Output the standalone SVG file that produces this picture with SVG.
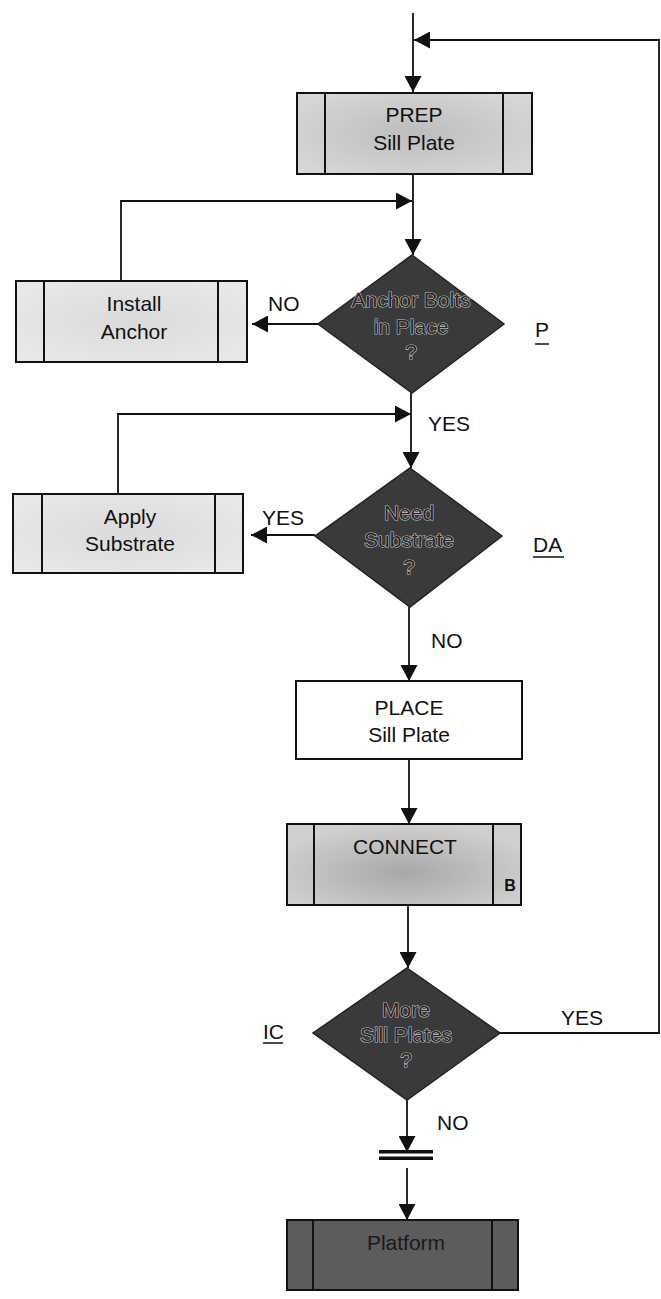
<svg xmlns="http://www.w3.org/2000/svg" width="661" height="1299" viewBox="0 0 661 1299">
<style>
  .t{font-family:"Liberation Sans",Arial,sans-serif;font-size:21px;fill:#111;text-anchor:middle}
  .lbl{font-family:"Liberation Sans",Arial,sans-serif;font-size:21px;fill:#111}
  .dt{font-family:"Liberation Sans",Arial,sans-serif;font-size:21px;fill:#262626;stroke:#c4c4c4;stroke-width:1.2;paint-order:stroke;text-anchor:middle}
  .edge{fill:none;stroke:#111;stroke-width:1.8}
  .box{stroke:#111;stroke-width:2}
  .dia{fill:#3a3a3a;stroke:#222;stroke-width:1.5}
  .inner{stroke:#111;stroke-width:2}
</style>
<defs>
  <marker id="ah" markerUnits="userSpaceOnUse" markerWidth="17" markerHeight="17" viewBox="0 0 16 17" refX="16" refY="8.5" orient="auto">
    <path d="M0,0 L16,8.5 L0,17 z" fill="#111"/>
  </marker>
  <radialGradient id="gPrep" cx="50%" cy="50%" r="60%">
    <stop offset="0" stop-color="#bdbdbd"/>
    <stop offset="1" stop-color="#d6d6d6"/>
  </radialGradient>
  <radialGradient id="gLight" cx="50%" cy="50%" r="60%">
    <stop offset="0" stop-color="#dadada"/>
    <stop offset="1" stop-color="#e8e8e8"/>
  </radialGradient>
  <radialGradient id="gConn" cx="50%" cy="60%" r="60%">
    <stop offset="0" stop-color="#a8a8a8"/>
    <stop offset="1" stop-color="#d0d0d0"/>
  </radialGradient>
</defs>

<g id="connectors">
  <path class="edge" d="M413,13 L413,92" marker-end="url(#ah)"/>
  <path class="edge" d="M413,174 L413,255" marker-end="url(#ah)"/>
  <path class="edge" d="M121,281 L121,201 L412,201" marker-end="url(#ah)"/>
  <path class="edge" d="M318,324 L252,324" marker-end="url(#ah)"/>
  <path class="edge" d="M411,393 L411,468" marker-end="url(#ah)"/>
  <path class="edge" d="M118,494 L118,414 L411,414" marker-end="url(#ah)"/>
  <path class="edge" d="M315,535 L251,535" marker-end="url(#ah)"/>
  <path class="edge" d="M409,607 L409,681" marker-end="url(#ah)"/>
  <path class="edge" d="M409,759 L409,824" marker-end="url(#ah)"/>
  <path class="edge" d="M408,905 L408,968" marker-end="url(#ah)"/>
  <path class="edge" d="M500,1033 L659,1033 L659,40 L414,40" marker-end="url(#ah)"/>
  <path class="edge" d="M407,1100 L407,1152" marker-end="url(#ah)"/>
  <rect x="379" y="1150" width="54" height="3.5" fill="#111"/>
  <rect x="379" y="1156.5" width="54" height="3.5" fill="#111"/>
  <path class="edge" d="M407,1168 L407,1220" marker-end="url(#ah)"/>
  <text class="lbl" x="268" y="311">NO</text>
  <text class="lbl" x="428" y="431">YES</text>
  <text class="lbl" x="262" y="525">YES</text>
  <text class="lbl" x="431" y="648">NO</text>
  <text class="lbl" x="561" y="1025">YES</text>
  <text class="lbl" x="437" y="1130">NO</text>
</g>

<g id="prep">
  <rect class="box" x="297" y="93" width="235" height="81" fill="url(#gPrep)"/>
  <line class="inner" x1="325" y1="93" x2="325" y2="174"/>
  <line class="inner" x1="503" y1="93" x2="503" y2="174"/>
  <text class="t" x="414" y="122">PREP</text>
  <text class="t" x="414" y="150">Sill Plate</text>
</g>

<g id="anchor-decision">
  <polygon class="dia" points="412,255 504,324 412,393 318,324"/>
  <text class="dt" x="411" y="307">Anchor Bolts</text>
  <text class="dt" x="411" y="334">in Place</text>
  <text class="dt" x="411" y="359">?</text>
  <text class="lbl" x="535" y="337">P</text>
  <line x1="535" y1="344" x2="549" y2="344" stroke="#111" stroke-width="1.5"/>
</g>

<g id="install-anchor">
  <rect class="box" x="16" y="281" width="231" height="81" fill="url(#gLight)"/>
  <line class="inner" x1="44" y1="281" x2="44" y2="362"/>
  <line class="inner" x1="218" y1="281" x2="218" y2="362"/>
  <text class="t" x="134" y="311">Install</text>
  <text class="t" x="134" y="339">Anchor</text>
</g>

<g id="substrate-decision">
  <polygon class="dia" points="410,468 502,536 410,607 315,536"/>
  <text class="dt" x="409" y="520">Need</text>
  <text class="dt" x="409" y="547">Substrate</text>
  <text class="dt" x="409" y="574">?</text>
  <text class="lbl" x="533" y="552">DA</text>
  <line x1="533" y1="557" x2="564" y2="557" stroke="#111" stroke-width="1.5"/>
</g>

<g id="apply-substrate">
  <rect class="box" x="13" y="494" width="230" height="79" fill="url(#gLight)"/>
  <line class="inner" x1="42" y1="494" x2="42" y2="573"/>
  <line class="inner" x1="215" y1="494" x2="215" y2="573"/>
  <text class="t" x="130" y="524">Apply</text>
  <text class="t" x="130" y="551">Substrate</text>
</g>

<g id="place">
  <rect class="box" x="296" y="681" width="226" height="78" fill="#fff"/>
  <text class="t" x="409" y="715">PLACE</text>
  <text class="t" x="409" y="742">Sill Plate</text>
</g>

<g id="connect">
  <rect class="box" x="287" y="824" width="234" height="81" fill="url(#gConn)"/>
  <line class="inner" x1="314" y1="824" x2="314" y2="905"/>
  <line class="inner" x1="493" y1="824" x2="493" y2="905"/>
  <text class="t" x="405" y="854">CONNECT</text>
  <text x="510" y="891" font-family="Liberation Sans, Arial, sans-serif" font-size="16" font-weight="bold" fill="#111" text-anchor="middle">B</text>
</g>

<g id="more-decision">
  <polygon class="dia" points="407,968 500,1033 407,1100 313,1033"/>
  <text class="dt" x="406" y="1017">More</text>
  <text class="dt" x="406" y="1042">Sill Plates</text>
  <text class="dt" x="406" y="1067">?</text>
  <text class="lbl" x="263" y="1039">IC</text>
  <line x1="263" y1="1043" x2="283" y2="1043" stroke="#111" stroke-width="1.5"/>
</g>

<g id="platform">
  <rect class="box" x="287" y="1220" width="231" height="70" fill="#5c5c5c"/>
  <line class="inner" x1="313" y1="1220" x2="313" y2="1290"/>
  <line class="inner" x1="492" y1="1220" x2="492" y2="1290"/>
  <text class="t" x="406" y="1250" style="fill:#1a1a1a">Platform</text>
</g>
</svg>
